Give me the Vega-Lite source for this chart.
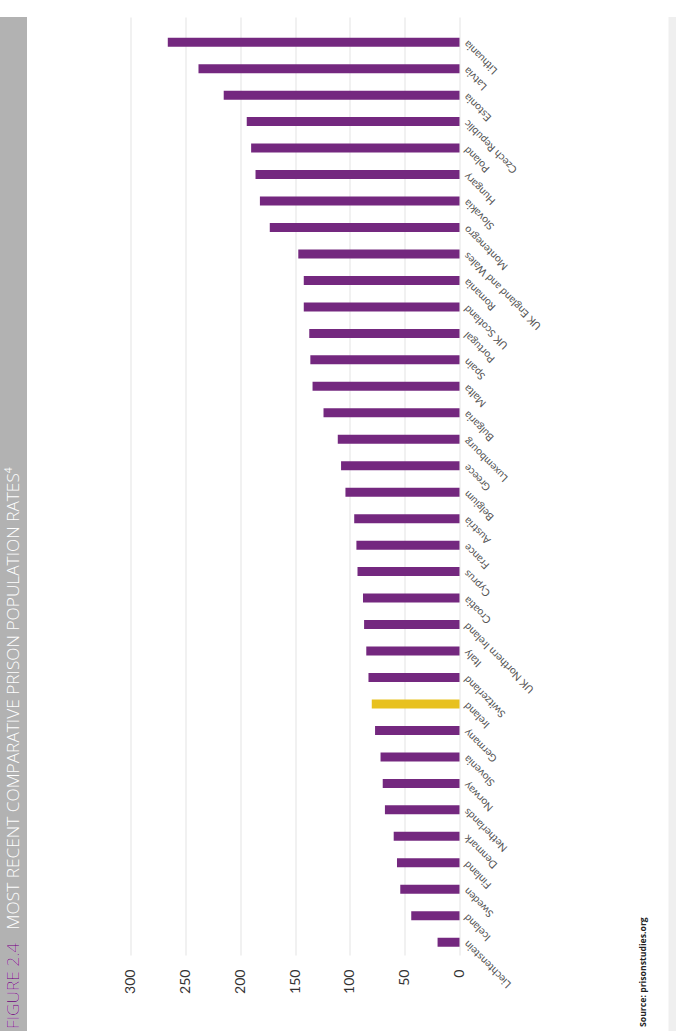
{
  "$schema": "https://vega.github.io/schema/vega-lite/v6.json",
  "background": "white",
  "padding": 0,
  "spacing": 96.5,
  "config": {"view": {"stroke": null}},
  "hconcat": [
    {
      "width": 27,
      "height": 1025,
      "view": {"fill": "#b2b2b2", "stroke": null},
      "data": {"values": [{"figure": "FIGURE 2.4", "title": "FIGURE 2.4\u00a0\u00a0\u00a0MOST RECENT COMPARATIVE PRISON POPULATION RATES⁴"}]},
      "layer": [
        {
          "mark": {"type": "text", "angle": 270, "align": "left", "baseline": "middle", "font": "Open Sans", "fontSize": 17.3, "fontWeight": 300, "color": "white", "dx": 13},
          "encoding": {"text": {"field": "title"}, "y": {"value": "height"}}
        },
        {
          "mark": {"type": "text", "angle": 270, "align": "left", "baseline": "middle", "font": "Open Sans", "fontSize": 17.3, "fontWeight": 300, "color": "#7a2a85", "dx": 13},
          "encoding": {"text": {"field": "figure"}, "y": {"value": "height"}}
        }
      ]
    },
    {
      "spacing": 21,
      "hconcat": [
        {
          "width": 329,
          "height": 938,
          "title": {"text": " ", "fontSize": 13, "offset": 4},
          "data": {"values": [
            {"country": "Lithuania", "rate": 266},
            {"country": "Latvia", "rate": 238},
            {"country": "Estonia", "rate": 215},
            {"country": "Czech Republic", "rate": 194},
            {"country": "Poland", "rate": 190},
            {"country": "Hungary", "rate": 186},
            {"country": "Slovakia", "rate": 182},
            {"country": "Montenegro", "rate": 173},
            {"country": "UK England and Wales", "rate": 147},
            {"country": "Romania", "rate": 142},
            {"country": "UK Scotland", "rate": 142},
            {"country": "Portugal", "rate": 137},
            {"country": "Spain", "rate": 136},
            {"country": "Malta", "rate": 134},
            {"country": "Bulgaria", "rate": 124},
            {"country": "Luxembourg", "rate": 111},
            {"country": "Greece", "rate": 108},
            {"country": "Belgium", "rate": 104},
            {"country": "Austria", "rate": 96},
            {"country": "France", "rate": 94},
            {"country": "Cyprus", "rate": 93},
            {"country": "Croatia", "rate": 88},
            {"country": "UK Northern Ireland", "rate": 87},
            {"country": "Italy", "rate": 85},
            {"country": "Switzerland", "rate": 83},
            {"country": "Ireland", "rate": 80},
            {"country": "Germany", "rate": 77},
            {"country": "Slovenia", "rate": 72},
            {"country": "Norway", "rate": 70},
            {"country": "Netherlands", "rate": 68},
            {"country": "Denmark", "rate": 60},
            {"country": "Finland", "rate": 57},
            {"country": "Sweden", "rate": 54},
            {"country": "Iceland", "rate": 44},
            {"country": "Liechtenstein", "rate": 20}
          ]},
          "mark": {"type": "bar"},
          "encoding": {
            "y": {
              "field": "country", "type": "nominal", "sort": null,
              "scale": {"paddingInner": 0.66, "paddingOuter": 0.548, "align": 0.714},
              "axis": {"orient": "right", "title": null, "labelAngle": 225, "labelAlign": "right", "labelBaseline": "middle", "labelFont": "Lato", "labelFontSize": 10.5, "labelColor": "#555555", "labelPadding": 6, "labelOverlap": false, "ticks": false, "domain": false}
            },
            "x": {
              "field": "rate", "type": "quantitative",
              "scale": {"domain": [0, 300], "reverse": true, "nice": false},
              "axis": {"title": null, "values": [0, 50, 100, 150, 200, 250, 300], "labelAngle": 270, "labelFont": "Lato", "labelFontSize": 14, "labelColor": "#333333", "labelPadding": 14, "ticks": false, "domain": false, "gridColor": "#e3e3e3", "labelOverlap": false}
            },
            "color": {
              "condition": {"test": "datum.country === 'Ireland'", "value": "#e8c11f"},
              "value": "#74287f"
            }
          }
        },
        {
          "width": 78,
          "height": 1010,
          "data": {"values": [{"t": "Source: prisonstudies.org"}]},
          "mark": {"type": "text", "angle": 270, "align": "left", "baseline": "middle", "font": "Open Sans", "fontSize": 8.7, "fontWeight": "bold", "color": "#222222"},
          "encoding": {"text": {"field": "t"}, "x": {"value": "width"}, "y": {"value": "height"}}
        },
        {
          "width": 20,
          "height": 1031,
          "view": {"fill": "#efefef", "stroke": null},
          "data": {"values": [{"t": ""}]},
          "mark": {"type": "text"},
          "encoding": {"text": {"field": "t"}}
        }
      ]
    }
  ]
}
